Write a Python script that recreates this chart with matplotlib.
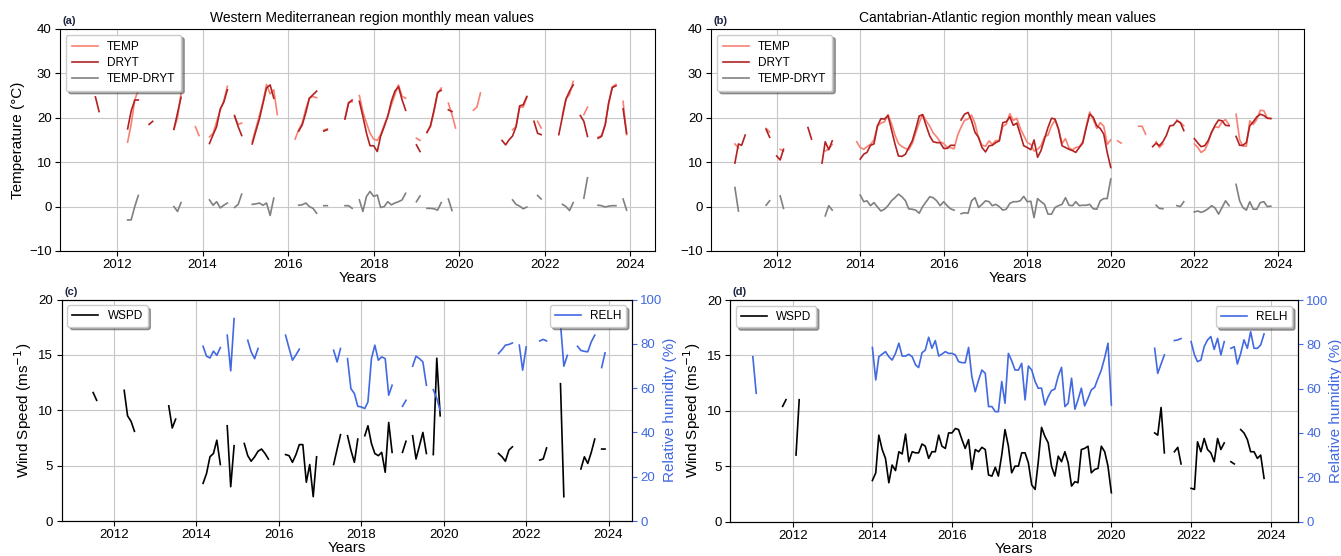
import numpy as np
import pandas as pd
import matplotlib
matplotlib.use('Agg')
import matplotlib.pyplot as plt
import matplotlib.dates as mdates

plt.rcParams['font.family'] = ['Liberation Sans', 'DejaVu Sans']

_ = np.nan
# monthly time axis, Jan 2011 .. Dec 2023
months = pd.date_range('2011-01-01', '2023-12-01', freq='MS')

# ---- Western Mediterranean (panel a, c) ----
wm_temp = [
    _, _, _, _, _, _, _, _, _, _, _, _,                                  # 2011
    _, _, _, 14.5, 18.5, 24.0, 26.3, _, _, _, _, _,                      # 2012
    _, _, _, _, 17.4, 20.0, 25.5, _, _, _, 18.0, 16.0,                   # 2013
    _, _, 15.7, 16.5, 19.1, 21.7, 23.8, 27.1, _, 20.3, 18.5, 18.8,       # 2014
    _, _, 14.6, 17.6, 20.5, 23.6, 27.5, 25.4, 26.3, 20.7, _, _,          # 2015
    _, _, 15.2, 17.3, 18.8, 22.0, 24.4, 24.8, 24.5, _, 17.2, 17.5,       # 2016
    _, _, _, _, 19.9, 23.5, 23.6, _, 25.0, 21.4, 18.8, 16.5,             # 2017
    15.2, 14.9, 16.2, 18.4, 20.3, 22.9, 25.2, 27.4, 24.8, 24.4, _, _,    # 2018
    15.4, 14.9, _, 16.7, 18.0, 21.5, 25.5, 26.7, _, 23.3, 20.7, 17.7,    # 2019
    _, _, _, _, 21.7, 22.4, 25.6, _, _, _, _, _,                         # 2020
    _, _, _, 17.3, 18.0, 22.4, 22.4, 24.6, _, _, 19.2, 17.7,             # 2021
    _, _, _, _, _, 20.6, 24.2, 25.3, 28.2, _, _, 20.7,                   # 2022
    22.4, _, _, 15.6, 16.0, 18.4, 23.5, 27.0, 27.5, _, 23.7, 16.2,       # 2023
]
wm_dryt = [
    _, _, _, _, _, _, 24.7, 21.4, _, _, _, _,
    _, _, _, 17.5, 21.5, 24.0, 24.0, _, _, 18.5, 19.2, _,
    _, _, _, _, 17.4, 21.1, 24.6, _, _, _, _, _,
    _, _, 14.2, 16.2, 18.0, 22.0, 23.5, 26.3, _, 20.5, 18.0, 16.0,
    _, _, 14.1, 17.0, 19.7, 23.3, 26.7, 27.4, 24.4, _, _, _,
    _, _, _, 17.0, 18.4, 21.2, 24.4, 25.2, 26.0, _, 17.0, 17.3,
    _, _, _, _, 19.7, 23.3, 24.0, _, 23.7, 20.3, 16.5, 13.7,
    13.7, 12.4, 15.8, 18.0, 20.3, 23.7, 26.0, 27.0, 24.0, 21.7, _, _,
    13.9, 12.4, _, 16.7, 18.2, 21.8, 25.7, 26.2, _, 21.8, 21.4, _,
    _, _, _, _, _, _, _, _, _, _, _, _,
    14.9, 13.9, 15.0, 15.9, 18.0, 22.7, 22.9, 24.8, _, 19.2, 16.5, 16.2,
    _, _, _, _, 16.2, 20.3, 24.2, 26.0, 27.4, _, 20.5, 19.2,
    15.8, _, _, 15.4, 15.8, 18.4, 23.3, 26.8, 27.2, _, 22.0, 16.5,
]
wm_diff = [
    _, _, _, _, _, _, _, _, _, _, _, _,
    _, _, _, -3.0, -3.0, 0.0, 2.5, _, _, _, _, _,
    _, _, _, _, 0.0, -1.1, 0.9, _, _, _, _, _,
    _, _, 1.5, 0.3, 1.1, -0.3, 0.3, 0.8, _, -0.2, 0.5, 2.8,
    _, _, 0.5, 0.6, 0.8, 0.3, 0.8, -2.0, 1.9, _, _, _,
    _, _, _, 0.3, 0.4, 0.8, 0.0, -0.4, -1.5, _, 0.2, 0.2,
    _, _, _, _, 0.2, 0.2, -0.4, _, 1.5, -1.1, 2.3, 3.4,
    2.3, 2.6, -0.2, 0.0, 1.1, 0.4, 0.8, 1.1, 1.5, 3.0, _, _,
    1.1, 2.4, _, -0.4, -0.4, -0.5, -0.8, 0.9, _, 1.7, -0.9, _,
    _, _, _, _, _, _, _, _, _, _, _, _,
    _, _, _, 1.5, 0.5, 0.1, -0.5, -0.1, _, _, 2.5, 1.7,
    _, _, _, _, _, 0.5, 0.0, -0.9, 0.9, _, _, 1.9,
    6.5, _, _, 0.3, 0.2, -0.1, 0.1, 0.2, 0.2, _, 1.7, -0.8,
]
wm_wspd = [
    _, _, _, _, _, _, 11.6, 10.9, _, _, _, _,
    _, _, _, 11.8, 9.5, 9.0, 8.1, _, _, _, _, _,
    _, _, _, _, 10.4, 8.4, 9.2, _, _, _, _, _,
    _, _, 3.4, 4.3, 5.8, 6.1, 7.3, 5.1, _, 8.6, 3.1, 6.8,
    _, _, 7.0, 5.9, 5.4, 5.8, 6.3, 6.5, 6.1, 5.6, _, _,
    _, _, 6.0, 5.9, 5.3, 6.0, 6.9, 6.9, 3.5, 5.1, 2.2, 5.8,
    _, _, _, _, 5.1, 6.5, 7.8, _, 7.7, 6.4, 5.3, 7.4,
    _, 7.7, 8.6, 7.0, 6.1, 5.9, 6.2, 4.4, 8.9, 6.2, _, _,
    6.2, 7.2, _, 7.7, 5.6, 6.8, 8.0, 6.1, _, 6.0, 14.7, 9.5,
    _, _, _, _, _, _, _, _, _, _, _, _,
    _, _, _, _, 6.1, 5.8, 5.4, 6.4, 6.7, _, _, _,
    _, _, _, _, 5.5, 5.6, 6.6, _, _, _, 12.4, 2.2,
    _, _, _, _, 4.7, 5.8, 5.2, 6.2, 7.4, _, 6.5, 6.5,
]
wm_relh = [
    _, _, _, _, _, _, _, _, _, _, _, _,
    _, _, _, _, _, _, _, _, _, _, _, _,
    _, _, _, _, _, _, _, _, _, _, _, _,
    _, _, 78.9, 74.4, 73.6, 76.7, 74.8, 78.3, _, 83.9, 67.8, 91.4,
    _, _, _, 81.6, 76.4, 73.3, 77.9, _, _, _, _, _,
    _, _, 83.9, 78.0, 72.6, 75.0, 77.6, _, _, _, _, _,
    _, _, _, _, 77.1, 71.8, 77.9, _, 73.3, 59.8, 57.5, 51.8,
    51.5, 50.8, 53.8, 73.3, 79.4, 72.6, 74.1, 73.3, 56.8, 61.3, _, _,
    51.8, 54.5, _, 69.9, 74.4, 73.3, 71.8, 61.3, _, 59.3, 55.3, 50.0,
    _, _, _, _, _, _, _, _, _, _, _, _,
    _, _, _, _, 75.6, 77.4, 79.4, 79.7, 80.4, _, 79.4, 68.1,
    78.6, _, _, _, 81.3, 82.0, 81.3, _, _, _, 89.2, 69.9,
    74.8, _, _, 78.9, 77.0, 76.6, 76.4, 80.9, 83.9, _, 69.3, 75.9,
]

# ---- Cantabrian-Atlantic (panel b, d) ----
ca_temp = [
    14.1, 13.2, _, _, _, _, _, _, _, 17.6, 16.8, _,
    _, 12.9, 12.5, _, _, _, _, _, _, _, _, _,
    _, _, 12.5, 13.0, 14.0, _, _, _, _, _, _, 14.6,
    13.3, 12.9, 13.5, 14.0, 15.0, 18.1, 18.8, 19.1, 20.7, 18.7, 16.1, 14.2,
    13.5, 13.1, 12.8, 14.2, 16.6, 18.9, 20.7, 19.3, 18.1, 16.6, 15.7, 14.6,
    14.2, 13.3, 13.3, 13.0, 16.0, 17.9, 19.4, 19.7, 20.6, 18.7, 15.4, 13.8,
    13.6, 14.8, 14.0, 14.9, 14.8, 18.1, 18.5, 20.9, 19.4, 19.9, 17.6, 16.0,
    14.4, 14.0, 12.5, 12.9, 13.7, 15.7, 16.1, 18.2, 19.5, 17.6, 14.2, 15.3,
    13.2, 12.8, 13.3, 13.5, 14.6, 18.1, 21.3, 19.6, 17.6, 18.9, 18.1, 14.0,
    15.0, _, 14.8, 14.3, _, _, _, _, 18.1, 18.1, 16.3, _,
    _, 14.6, 13.3, 14.1, _, _, _, 19.5, 18.9, 18.2, _, _,
    14.1, 13.3, 12.2, 12.7, 14.3, 16.9, 18.0, 17.8, 19.1, 19.6, 18.4, _,
    20.8, 15.1, 13.6, 13.6, 19.3, 18.5, 19.6, 21.7, 21.6, 19.9, 19.9, _,
]
ca_dryt = [
    9.8, 14.1, 13.8, 16.1, _, _, _, _, _, 17.4, 15.6, _,
    11.4, 10.5, 12.9, _, _, _, _, _, _, 17.8, 15.2, _,
    _, 9.8, 14.6, 12.8, 14.8, _, _, _, _, _, _, _,
    10.7, 11.8, 12.2, 13.8, 14.1, 18.2, 19.8, 19.7, 20.5, 17.4, 14.1, 11.4,
    11.3, 11.8, 13.3, 14.8, 17.4, 20.4, 20.7, 18.2, 15.9, 14.6, 14.4, 14.4,
    13.1, 13.1, 13.8, 13.8, _, 19.5, 20.8, 21.2, 19.3, 16.7, 15.6, 13.3,
    12.3, 13.7, 13.8, 14.4, 14.8, 18.9, 19.1, 20.2, 18.3, 18.8, 16.3, 13.7,
    13.3, 12.8, 15.0, 11.1, 12.6, 15.2, 17.8, 19.9, 19.7, 17.4, 13.7, 13.3,
    12.9, 12.6, 12.2, 13.3, 14.3, 17.8, 20.8, 20.1, 18.2, 17.6, 16.3, 12.2,
    8.8, _, _, _, _, _, _, _, _, _, _, _,
    13.5, 14.3, 13.7, 14.6, 16.0, 18.2, 18.3, 19.3, 18.9, 17.1, _, _,
    15.3, 14.3, 13.5, 13.7, 14.8, 16.7, 18.3, 19.5, 19.3, 18.3, 18.2, _,
    15.8, 13.8, 13.8, 14.4, 18.2, 19.1, 20.2, 20.8, 20.5, 19.9, 19.8, _,
]
ca_diff = [
    4.3, -1.0, _, _, _, _, _, _, _, 0.3, 1.3, _,
    _, 2.4, -0.4, _, _, _, _, _, _, _, _, _,
    _, _, -2.1, 0.2, -0.8, _, _, _, _, _, _, _,
    2.6, 1.1, 1.3, 0.2, 0.9, -0.1, -1.0, -0.6, 0.2, 1.3, 2.0, 2.8,
    2.2, 1.3, -0.5, -0.6, -0.8, -1.5, 0.0, 1.1, 2.2, 2.0, 1.3, 0.2,
    1.1, 0.2, -0.5, -0.8, _, -1.6, -1.4, -1.5, 1.3, 2.0, -0.2, 0.5,
    1.3, 1.1, 0.2, 0.5, 0.0, -0.8, -0.6, 0.7, 1.1, 1.1, 1.3, 2.3,
    1.1, 1.2, -2.5, 1.8, 1.1, 0.5, -1.7, -1.7, -0.2, 0.2, 0.5, 2.0,
    0.3, 0.2, 1.1, 0.2, 0.3, 0.3, 0.5, -0.5, -0.6, 1.3, 1.8, 1.8,
    6.2, _, _, _, _, _, _, _, _, _, _, _,
    _, 0.3, -0.4, -0.5, _, _, _, 0.2, 0.0, 1.1, _, _,
    -1.2, -1.0, -1.3, -1.0, -0.5, 0.2, -0.3, -1.7, -0.2, 1.3, 0.2, _,
    5.0, 1.3, -0.2, -0.8, 1.1, -0.6, -0.6, 0.9, 1.1, 0.0, 0.1, _,
]
ca_wspd = [
    _, _, _, _, _, _, _, _, _, 10.4, 11.0, _,
    _, 6.0, 11.0, _, _, _, _, _, _, _, _, _,
    _, _, _, _, _, _, _, _, _, _, _, _,
    3.7, 4.4, 7.8, 6.5, 5.7, 3.5, 5.1, 4.6, 6.3, 6.1, 7.9, 5.4,
    6.3, 6.2, 6.2, 7.0, 6.8, 5.7, 6.3, 6.3, 7.8, 6.8, 6.6, 8.0,
    8.0, 8.4, 8.3, 7.4, 6.6, 7.4, 4.7, 6.5, 6.3, 6.7, 6.5, 4.2,
    4.1, 4.9, 4.1, 6.0, 8.3, 6.8, 4.4, 5.0, 5.0, 6.2, 6.2, 5.3,
    3.3, 2.9, 5.3, 8.5, 7.7, 7.1, 5.0, 4.1, 5.9, 5.4, 6.3, 5.3,
    3.2, 3.6, 3.5, 6.5, 6.6, 6.8, 4.4, 4.7, 4.8, 6.8, 6.3, 5.0,
    2.6, _, _, _, _, _, _, _, _, _, _, _,
    _, 8.0, 7.8, 10.3, 6.2, _, _, 6.3, 6.7, 5.2, _, _,
    3.0, 2.9, 7.2, 6.3, 7.5, 6.5, 6.2, 5.4, 7.5, 6.5, 7.1, _,
    5.4, 5.2, _, 8.3, 8.0, 7.4, 6.3, 6.3, 5.7, 6.0, 3.9, _,
]
ca_relh = [
    74.4, 57.9, _, _, _, _, _, _, _, _, _, _,
    _, _, _, _, _, _, _, _, _, _, _, _,
    _, _, _, _, _, _, _, _, _, _, _, _,
    78.6, 63.9, 74.4, 75.6, 76.7, 74.4, 72.9, 75.9, 80.5, 74.7, 74.7, 75.5,
    74.4, 70.7, 69.5, 76.2, 77.4, 83.2, 78.2, 81.7, 74.7, 75.6, 76.7, 75.9,
    75.9, 75.2, 72.2, 71.7, 71.7, 78.6, 65.4, 58.6, 63.9, 68.4, 66.9, 51.9,
    51.9, 49.6, 49.6, 63.2, 53.4, 75.9, 72.6, 68.4, 68.4, 71.4, 54.9, 70.2,
    68.4, 63.2, 60.2, 60.2, 52.6, 56.4, 59.1, 59.8, 65.7, 69.6, 51.9, 53.4,
    64.7, 50.7, 54.9, 60.2, 52.2, 55.6, 59.4, 60.6, 64.7, 68.4, 74.0, 80.5,
    52.6, _, _, _, _, _, _, _, _, _, _, _,
    _, 78.2, 66.9, 71.1, 75.2, _, _, 81.7, 82.0, 82.6, _, _,
    81.2, 75.2, 72.2, 72.9, 79.0, 82.0, 83.5, 77.7, 82.7, 75.2, 81.2, _,
    78.2, 78.9, 71.1, 75.9, 82.0, 78.2, 85.7, 78.2, 78.2, 79.7, 84.7, _,
]

RH_BLUE = 'royalblue'

fig = plt.figure(figsize=(13.41, 5.56), dpi=100)
ax_a = fig.add_axes([0.0447, 0.5486, 0.4437, 0.3993])
ax_b = fig.add_axes([0.5302, 0.5486, 0.4422, 0.3993])
ax_c = fig.add_axes([0.0459, 0.0629, 0.4254, 0.3984])
ax_d = fig.add_axes([0.5444, 0.0620, 0.4236, 0.3984])


def style_time_axis(ax, xlim, label):
    ax.xaxis.set_major_locator(mdates.YearLocator(2))
    ax.xaxis.set_major_formatter(mdates.DateFormatter('%Y'))
    ax.set_xlim(pd.Timestamp(xlim[0]), pd.Timestamp(xlim[1]))
    ax.set_xlabel('Years', fontsize=11, labelpad=0)
    ax.tick_params(labelsize=9.5, pad=2.5)
    ax.grid(True, color='#c8c8c8', linewidth=0.8)
    ax.text(0.005, 1.012, label, transform=ax.transAxes, fontsize=8,
            fontweight='bold', color='#1c2340', va='bottom', ha='left')


def temp_panel(ax, temp, dryt, diff, title, label, xlim, ylabel=True):
    ax.plot(months, temp, color='salmon', lw=1.2, label='TEMP')
    ax.plot(months, dryt, color='firebrick', lw=1.2, label='DRYT')
    ax.plot(months, diff, color='gray', lw=1.2, label='TEMP-DRYT')
    ax.set_ylim(-10, 40)
    ax.set_yticks([-10, 0, 10, 20, 30, 40])
    style_time_axis(ax, xlim, label)
    ax.set_title(title, fontsize=10, pad=5)
    if ylabel:
        ax.set_ylabel('Temperature (°C)', fontsize=11, labelpad=3)
    ax.legend(loc='upper left', fontsize=8.5, shadow=True, handlelength=2.2,
              borderpad=0.5, labelspacing=0.35)


def wind_panel(ax, wspd, relh, label, xlim):
    ax.plot(months, wspd, color='black', lw=1.2, label='WSPD')
    ax.set_ylim(0, 20)
    ax.set_yticks([0, 5, 10, 15, 20])
    style_time_axis(ax, xlim, label)
    ax.set_ylabel('Wind Speed (ms$^{-1}$)', fontsize=11, labelpad=3)
    ax.legend(loc='upper left', fontsize=8.5, shadow=True, handlelength=2.2)

    ax2 = ax.twinx()
    ax2.plot(months, relh, color=RH_BLUE, lw=1.2, label='RELH')
    ax2.set_ylim(0, 100)
    ax2.set_yticks([0, 20, 40, 60, 80, 100])
    ax2.tick_params(axis='y', colors=RH_BLUE, labelsize=9.5, pad=2.5)
    ax2.set_ylabel('Relative humidity (%)', color=RH_BLUE, fontsize=11,
                   labelpad=0)
    ax2.set_xlim(ax.get_xlim())
    ax2.legend(loc='upper right', fontsize=8.5, shadow=True, handlelength=2.2)


temp_panel(ax_a, wm_temp, wm_dryt, wm_diff,
           'Western Mediterranean region monthly mean values', '(a)',
           ('2010-09-01', '2024-07-30'))
ax_a.title.set_x(0.525)
temp_panel(ax_b, ca_temp, ca_dryt, ca_diff,
           'Cantabrian-Atlantic region monthly mean values', '(b)',
           ('2010-06-06', '2024-08-17'), ylabel=False)
wind_panel(ax_c, wm_wspd, wm_relh, '(c)', ('2010-09-24', '2024-07-27'))
wind_panel(ax_d, ca_wspd, ca_relh, '(d)', ('2010-06-06', '2024-09-08'))

fig.savefig('out.png', dpi=100)
